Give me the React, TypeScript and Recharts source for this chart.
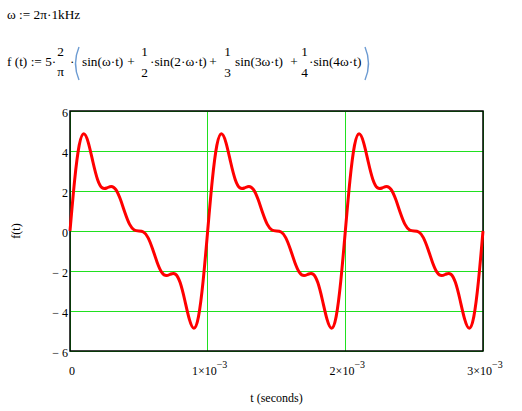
import { LineChart, Line, XAxis, YAxis, CartesianGrid, ReferenceArea, Label } from 'recharts';

const FONT = '"Liberation Serif", "Times New Roman", serif';

const F_VALUES = [
    0, 2.52, 4.28, 4.86, 4.41, 3.45, 2.58, 2.16, 2.15, 2.23, 2.07, 1.57, 0.9, 0.33, 0.05,
    0, -0.05, -0.33, -0.9, -1.57, -2.07, -2.23, -2.15, -2.16, -2.58, -3.45, -4.41, -4.86, -4.28, -2.52,
    0, 2.52, 4.28, 4.86, 4.41, 3.45, 2.58, 2.16, 2.15, 2.23, 2.07, 1.57, 0.9, 0.33, 0.05,
    0, -0.05, -0.33, -0.9, -1.57, -2.07, -2.23, -2.15, -2.16, -2.58, -3.45, -4.41, -4.86, -4.28, -2.52,
    0, 2.52, 4.28, 4.86, 4.41, 3.45, 2.58, 2.16, 2.15, 2.23, 2.07, 1.57, 0.9, 0.33, 0.05,
    0, -0.05, -0.33, -0.9, -1.57, -2.07, -2.23, -2.15, -2.16, -2.58, -3.45, -4.41, -4.86, -4.28, -2.52,
    0,
];
const STEP_MS = 1 / 30;

const X_TICKS = [0, 1, 2, 3]; // in ms (×10^-3 s)
const Y_TICKS = [-6, -4, -2, 0, 2, 4, 6];

const data = F_VALUES.map((f, i) => ({ t: i * STEP_MS, f }));

const TimeTick = ({ x, y, payload }: any) => {
    const v = payload.value;
    return (
        <text x={x + 2} y={y} dy="0.71em" textAnchor="middle" fill="#000" fontSize={12} fontFamily={FONT}>
            {v === 0 ? '0' : (
                <>
                    {`${v}×10`}
                    <tspan dy={-7} fontSize={10}>−3</tspan>
                </>
            )}
        </text>
    );
};

const Formula = () => (
    <svg width={522} height={100} style={{ position: 'absolute', left: 0, top: 0 }} fontFamily={FONT} fontSize={13.3} fill="#000">
        <text x={7} y={19}>ω := 2π·1kHz</text>

        <text x={7} y={66}>f (t) := 5·</text>
        <text x={60.5} y={56} textAnchor="middle">2</text>
        <text x={60.5} y={76} textAnchor="middle">π</text>
        <text x={70} y={66}>·</text>
        <path d="M79 47 Q72 63.5 79 80" stroke="#6c9bd2" strokeWidth={1.4} fill="none" />

        <text x={82} y={66}>sin(ω·t)</text>
        <text x={131} y={66} textAnchor="middle">+</text>
        <text x={144.5} y={56} textAnchor="middle">1</text>
        <text x={144.5} y={77} textAnchor="middle">2</text>
        <text x={150} y={66}>·sin(2·ω·t)</text>
        <text x={213} y={66} textAnchor="middle">+</text>
        <text x={227.5} y={56} textAnchor="middle">1</text>
        <text x={227.5} y={77} textAnchor="middle">3</text>
        <text x={235} y={66}>sin(3ω·t)</text>
        <text x={294} y={66} textAnchor="middle">+</text>
        <text x={304.5} y={56} textAnchor="middle">1</text>
        <text x={304.5} y={77} textAnchor="middle">4</text>
        <text x={309} y={66}>·sin(4ω·t)</text>
        <path d="M365 47 Q372 63.5 365 80" stroke="#6c9bd2" strokeWidth={1.4} fill="none" />
    </svg>
);

export default function App() {
    return (
        <div style={{ position: 'absolute', left: 0, top: 0, width: 522, height: 411, background: '#fff', fontFamily: FONT }}>
            <Formula />
            <div style={{ position: 'absolute', left: 0, top: 0 }}>
                <LineChart width={522} height={411} data={data} margin={{ top: 111, right: 39, left: 0, bottom: 0 }}>
                    <CartesianGrid stroke="#20e020" strokeWidth={1} shapeRendering="crispEdges" />
                    <XAxis
                        dataKey="t"
                        type="number"
                        domain={[0, 3]}
                        ticks={X_TICKS}
                        height={60}
                        tickSize={0}
                        tickMargin={15}
                        axisLine={false}
                        tick={<TimeTick />}
                    >
                        <Label value="t (seconds)" position="insideBottom" offset={9} fill="#000" fontSize={12} fontFamily={FONT} />
                    </XAxis>
                    <YAxis
                        type="number"
                        domain={[-6, 6]}
                        ticks={Y_TICKS}
                        width={70}
                        tickSize={0}
                        tickMargin={2}
                        axisLine={false}
                        tick={{ fill: '#000', fontSize: 12, fontFamily: FONT, dy: 2 }}
                        tickFormatter={(v: number) => (v < 0 ? `− ${-v}` : `${v}`)}
                    >
                        <Label
                            content={() => (
                                <text transform="translate(20,231) rotate(-90)" textAnchor="middle" fill="#000" fontSize={12} fontFamily={FONT}>
                                    f(t)
                                </text>
                            )}
                        />
                    </YAxis>
                    <ReferenceArea x1={0} x2={3} y1={-6} y2={6} fill="none" fillOpacity={0} stroke="#000" strokeWidth={1.5} />
                    <Line
                        dataKey="f"
                        type="natural"
                        stroke="#ff0000"
                        strokeWidth={3}
                        dot={false}
                        isAnimationActive={false}
                    />
                </LineChart>
            </div>
        </div>
    );
}
